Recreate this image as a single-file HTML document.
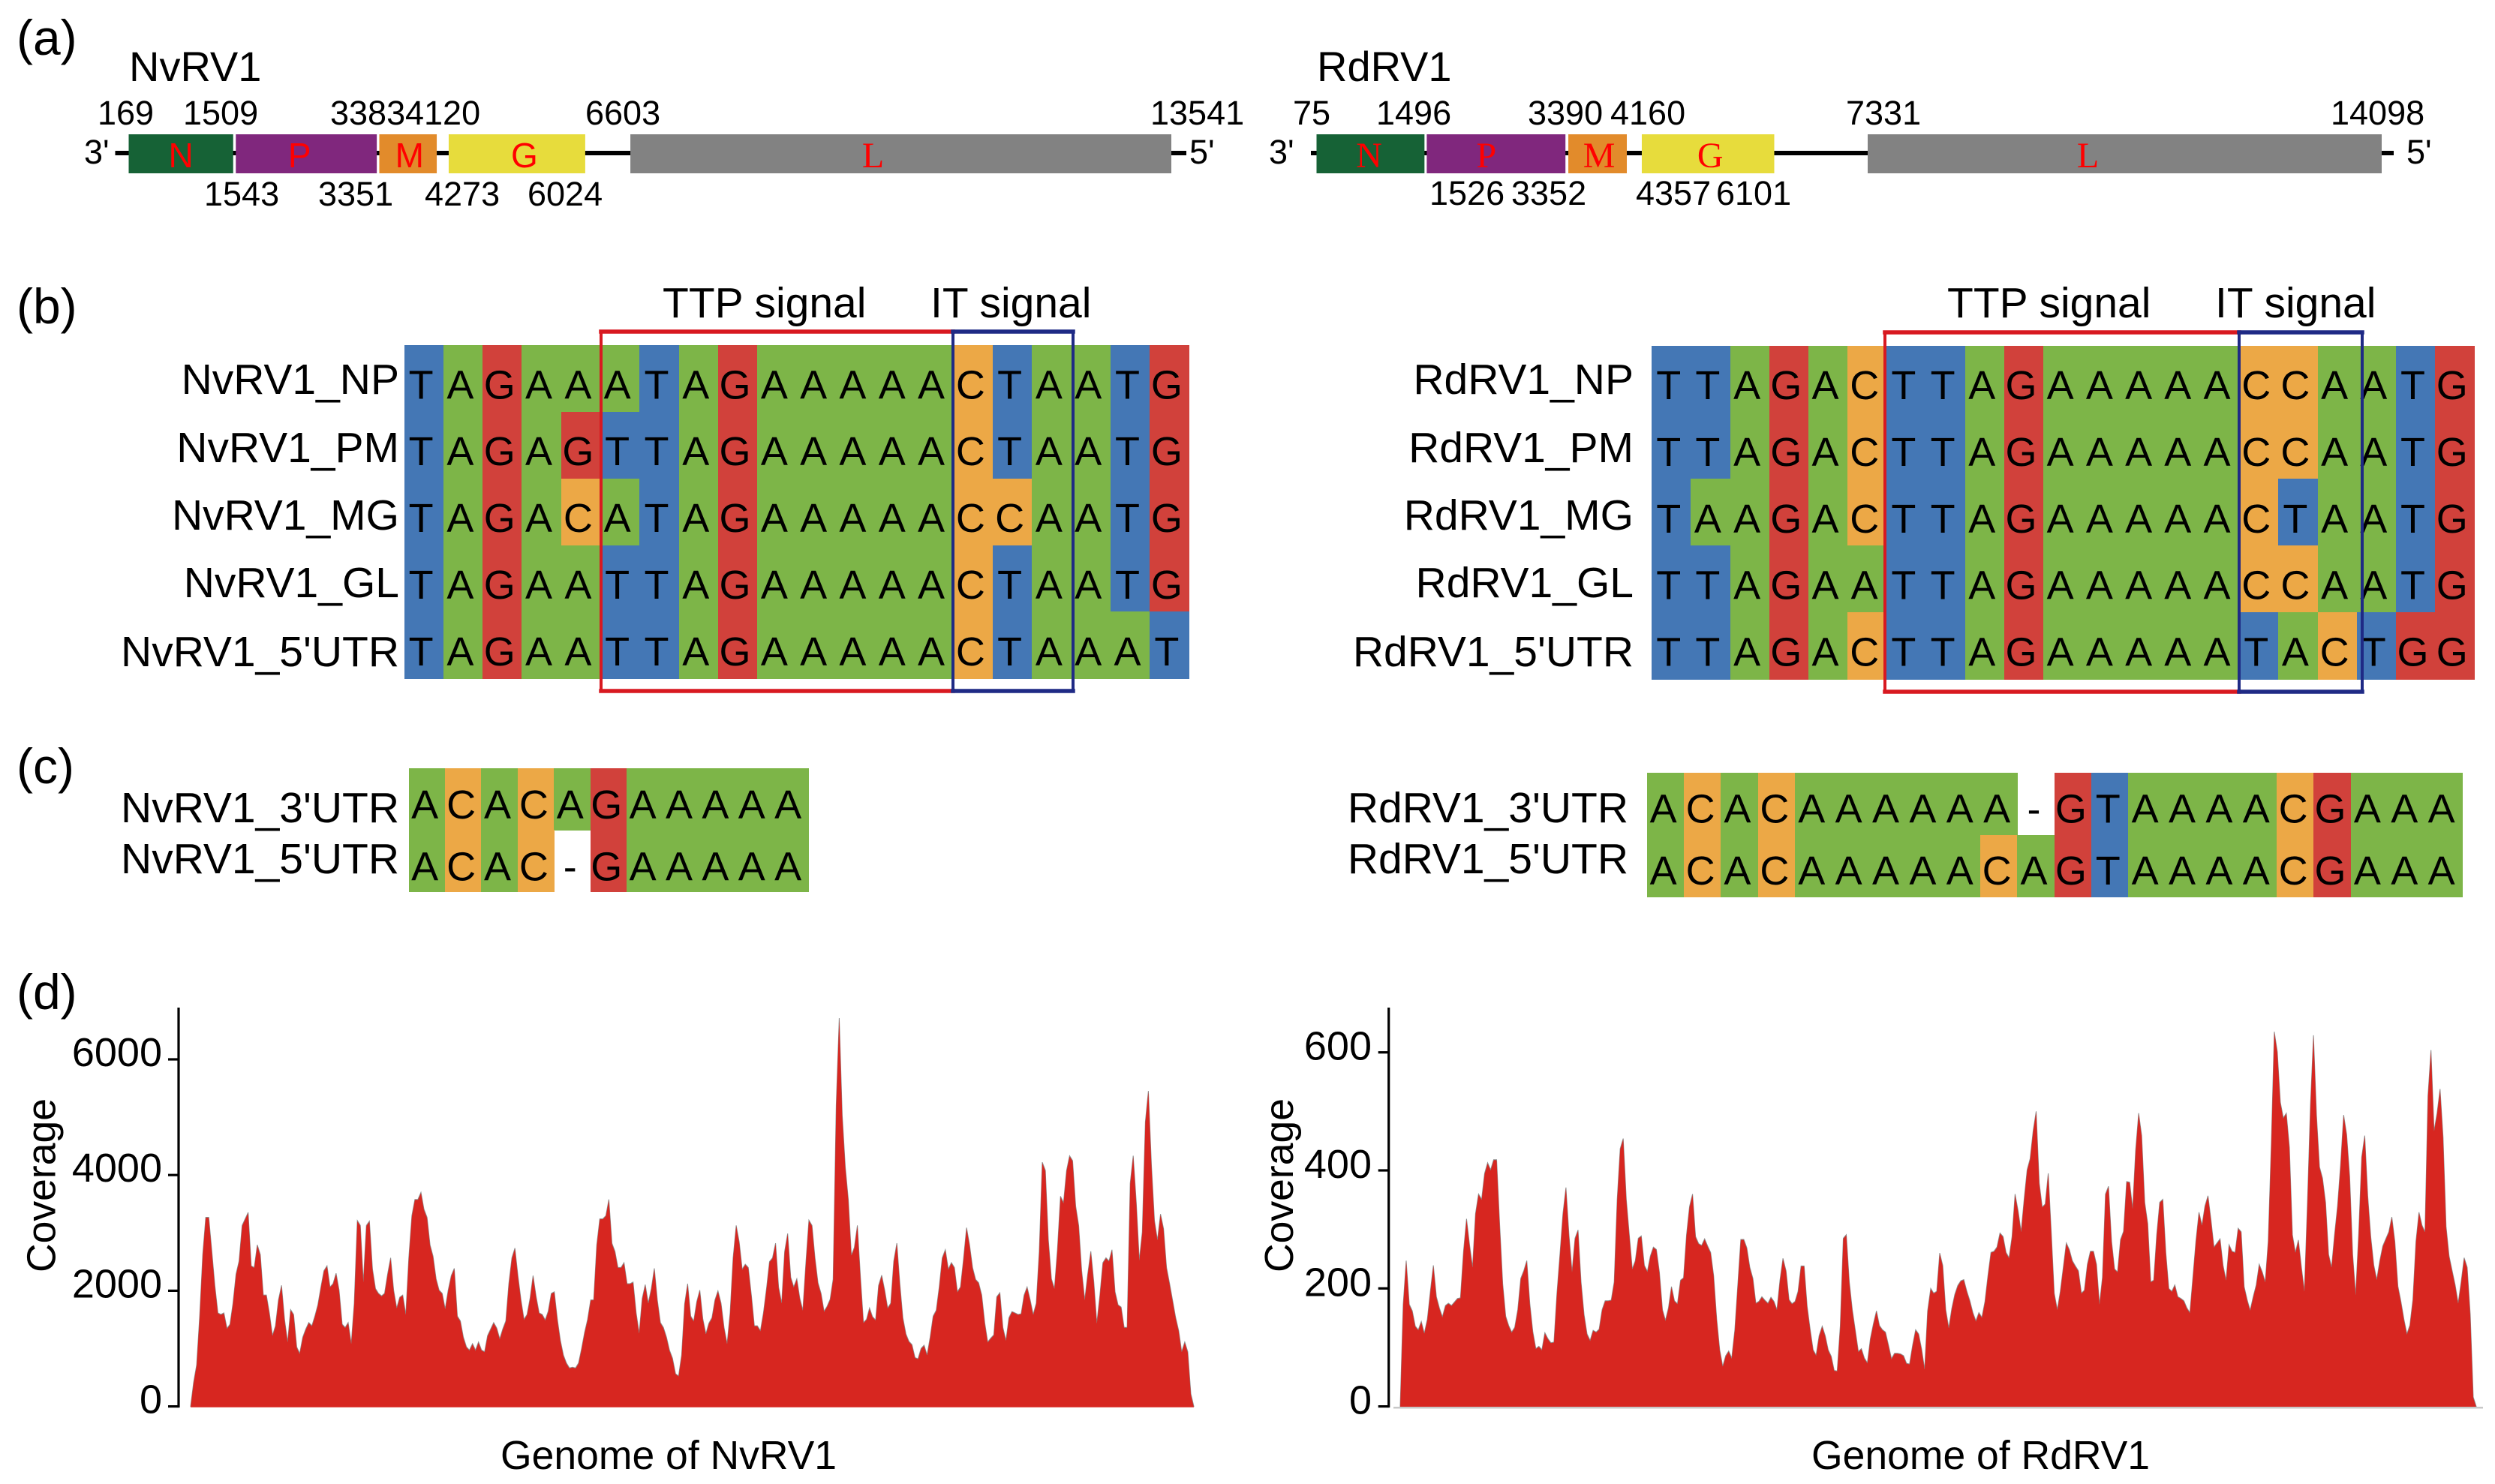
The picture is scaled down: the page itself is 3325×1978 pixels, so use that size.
<!DOCTYPE html>
<html lang="en">
<head>
<meta charset="utf-8">
<title>NvRV1 and RdRV1 genome organisation, conserved signals and coverage</title>
<style>
html,body{margin:0;padding:0;background:#fff;}
svg{display:block;font-family:"Liberation Sans",Arial,sans-serif;fill:#000;}
.pl{font-size:66px;}
.ti{font-size:56px;}
.nu{font-size:45px;}
.sg{font-size:57px;}
.rl{font-size:57px;text-anchor:end;}
.gs{font-size:46px;fill:#f00;text-anchor:middle;}
.gf{font-size:48px;fill:#f00;text-anchor:middle;font-family:"Liberation Serif",serif;}
.ax{font-size:53.5px;}
</style>
</head>
<body>
<svg id="fig" xmlns="http://www.w3.org/2000/svg" width="3325" height="1978" viewBox="0 0 3325 1978">
<rect x="0" y="0" width="3325" height="1978" fill="#fff"/>

<text class="pl" x="22" y="73">(a)</text>
<text class="pl" x="22" y="431">(b)</text>
<text class="pl" x="22" y="1044">(c)</text>
<text class="pl" x="22" y="1345">(d)</text>

<text class="ti" x="172" y="108">NvRV1</text>
<text class="ti" x="1755" y="108">RdRV1</text>

<g id="mapL"></g>
<g id="mapR"></g>

<g class="nu">
<text x="130" y="166">169</text>
<text x="244" y="166">1509</text>
<text x="440" y="166">3383</text>
<text x="540" y="166">4120</text>
<text x="780" y="166">6603</text>
<text x="1533" y="166">13541</text>
<text x="272" y="274">1543</text>
<text x="424" y="274">3351</text>
<text x="566" y="274">4273</text>
<text x="703" y="274">6024</text>
<text x="112" y="218">3'</text>
<text x="1585" y="218">5'</text>
</g>
<g class="nu">
<text x="1723" y="166">75</text>
<text x="1834" y="166">1496</text>
<text x="2036" y="166">3390</text>
<text x="2146" y="166">4160</text>
<text x="2460" y="166">7331</text>
<text x="3106" y="166">14098</text>
<text x="1905" y="273">1526</text>
<text x="2014" y="273">3352</text>
<text x="2180" y="273">4357</text>
<text x="2287" y="273">6101</text>
<text x="1691" y="218">3'</text>
<text x="3207" y="218">5'</text>
</g>

<g class="sg">
<text x="883" y="423">TTP signal</text>
<text x="1240" y="423">IT signal</text>
<text x="2595" y="423">TTP signal</text>
<text x="2952" y="423">IT signal</text>
</g>

<g>
<text class="rl" x="532" y="525">NvRV1_NP</text>
<text class="rl" x="532" y="616">NvRV1_PM</text>
<text class="rl" x="532" y="706">NvRV1_MG</text>
<text class="rl" x="532" y="796">NvRV1_GL</text>
<text class="rl" x="532" y="888">NvRV1_5'UTR</text>
<text class="rl" x="2177" y="525">RdRV1_NP</text>
<text class="rl" x="2177" y="616">RdRV1_PM</text>
<text class="rl" x="2177" y="706">RdRV1_MG</text>
<text class="rl" x="2177" y="796">RdRV1_GL</text>
<text class="rl" x="2177" y="888">RdRV1_5'UTR</text>
<text class="rl" x="532" y="1096">NvRV1_3'UTR</text>
<text class="rl" x="532" y="1164">NvRV1_5'UTR</text>
<text class="rl" x="2170" y="1096">RdRV1_3'UTR</text>
<text class="rl" x="2170" y="1164">RdRV1_5'UTR</text>
</g>

<g id="alignments"></g>

<g fill="none" stroke-linecap="square">
<path d="M1270 442H801V921H1270" stroke="#d81920" stroke-width="4"/>
<path d="M801 442H1270M801 921H1270" stroke="#d81920" stroke-width="5.5"/>
<path d="M1270 442V921M1430 442V921" stroke="#1f2a85" stroke-width="4"/>
<path d="M1270 442H1430M1270 921H1430" stroke="#1f2a85" stroke-width="5.5"/>
<path d="M2984 443H2512V922H2984" stroke="#d81920" stroke-width="4"/>
<path d="M2512 443H2984M2512 922H2984" stroke="#d81920" stroke-width="5.5"/>
<path d="M2984 443V922M3148 443V922" stroke="#1f2a85" stroke-width="4"/>
<path d="M2984 443H3148M2984 922H3148" stroke="#1f2a85" stroke-width="5.5"/>
</g>

<g id="chartL"></g>
<g id="chartR"></g>

<text class="ax" transform="translate(73.5 1580) rotate(-90)" text-anchor="middle">Coverage</text>
<text class="ax" transform="translate(1723 1580) rotate(-90)" text-anchor="middle">Coverage</text>
<text class="ax" x="667" y="1958">Genome of NvRV1</text>
<text class="ax" x="2414" y="1958">Genome of RdRV1</text>
</svg>

<script>
// ---------- Panel (a) data: gene coordinates in nucleotides ----------
const geneNames = ['N', 'P', 'M', 'G', 'L'];
const nvGeneStart = [169, 1543, 3383, 4273, 6603];
const nvGeneEnd = [1509, 3351, 4120, 6024, 13541];
const rdGeneStart = [75, 1526, 3390, 4357, 7331];
const rdGeneEnd = [1496, 3352, 4160, 6101, 14098];

// ---------- Panels (b) and (c) data: aligned sequences ----------
const nvSignalSeqs = [
  'TAGAAATAGAAAAACTAATG',
  'TAGAGTTAGAAAAACTAATG',
  'TAGACATAGAAAAACCAATG',
  'TAGAATTAGAAAAACTAATG',
  'TAGAATTAGAAAAACTAAAT'
];
const rdSignalSeqs = [
  'TTAGACTTAGAAAAACCAATG',
  'TTAGACTTAGAAAAACCAATG',
  'TAAGACTTAGAAAAACTAATG',
  'TTAGAATTAGAAAAACCAATG',
  'TTAGACTTAGAAAAATACTGG'
];
const nvUtrSeqs = ['ACACAGAAAAA', 'ACAC-GAAAAA'];
const rdUtrSeqs = ['ACACAAAAAA-GTAAAACGAAA', 'ACACAAAAACAGTAAAACGAAA'];

// ---------- Panel (d) data: read coverage per equal genome bin ----------
const nvTicks = [0, 2000, 4000, 6000];
const rdTicks = [0, 200, 400, 600];
const nvCoverage = [
0,414,722,1562,2626,3270,3270,2682,2094,1618,1590,1618,1350,1422,1786,2290,2514,3130,3242,3354,2430,2402,2794,2626,1926,1926,1618,1226,1394,1842,2094,1506,1114,1674,1590,1030,918,1198,1338,1450,
1394,1562,1758,2066,2346,2430,2066,2122,2302,2010,1422,1366,1450,1086,1786,3214,3130,2150,3130,3203,2374,2038,1954,1910,1954,2290,2570,2010,1702,1887,1926,1590,2570,3298,3578,3578,3702,3410,3270,2794,
2598,2206,2010,1954,1686,2010,2262,2386,1562,1478,1198,1030,974,1086,974,1114,974,946,1226,1338,1450,1355,1170,1338,1478,2122,2570,2738,2262,1842,1506,1590,1870,2262,1898,1618,1590,1495,1646,1954,
1982,1506,1142,890,750,666,678,666,750,1002,1282,1506,1842,1842,2794,3242,3242,3298,3578,2822,2682,2402,2402,2486,2122,2122,2150,1618,1266,1870,2106,1786,2038,2386,1842,1450,1366,1198,974,834,566,
526,890,1775,2122,1562,1478,1814,2010,1518,1254,1439,1534,1842,1999,1786,1366,1086,1618,2570,3130,2845,2374,2458,2402,1926,1394,1394,1310,1618,2038,2503,2570,2822,2066,1786,2682,2990,2234,2066,2206,
1870,1663,2486,3220,3130,2570,2139,1954,1646,1730,1854,2200,5202,6714,5034,4138,3578,2615,2750,3130,2234,1450,1506,1702,1551,1495,2094,2268,2010,1702,1786,2514,2822,2122,1534,1254,1126,1070,846,823,
1002,1058,890,1198,1562,1663,2066,2570,2710,2374,2486,2402,1982,2066,2542,3091,2794,2402,2195,2139,1926,1450,1114,1182,1238,1898,1966,1366,1142,1534,1641,1618,1590,1602,1926,2066,1842,1590,1786,2682,
4222,4082,2878,2206,2038,2710,3634,3522,4082,4334,4250,3466,3130,2346,1842,2290,2682,2150,1439,1926,2486,2570,2514,2710,1982,1758,1719,1366,1366,3858,4334,3522,2526,3018,4922,5454,4166,3214,2878,3326,
3074,2402,2122,1831,1534,1310,946,1114,946,218,0
];
const rdCoverage = [
0,173,247,173,162,136,130,144,124,148,195,239,186,167,152,171,175,171,177,183,184,263,318,274,236,327,360,351,395,413,401,418,418,307,208,153,137,126,134,164,
217,230,247,175,127,98,102,96,125,115,108,109,192,258,327,371,291,228,285,299,211,156,123,112,129,126,131,164,179,179,180,211,351,437,454,351,291,233,247,285,
289,239,229,255,270,266,228,164,146,167,203,179,174,214,218,291,339,360,288,276,273,284,272,261,222,148,96,68,86,94,82,129,206,283,283,269,236,217,175,178,
186,180,175,185,178,164,214,251,230,181,174,178,195,238,238,170,131,96,87,120,136,120,96,85,61,60,137,285,291,211,164,129,93,98,82,74,115,140,
162,137,130,126,104,81,90,90,89,86,73,72,104,130,123,97,63,162,200,192,195,260,239,164,133,166,190,205,213,215,195,179,159,145,159,151,178,222,261,263,
270,294,288,261,252,288,360,332,296,351,401,420,467,500,379,338,343,395,296,192,164,195,236,277,266,247,238,230,192,197,241,263,263,241,173,219,360,373,280,233,
228,283,297,381,380,335,434,497,459,346,310,211,214,291,346,351,261,200,195,206,186,183,179,167,159,219,280,329,307,340,357,316,270,277,284,239,214,274,263,261,
302,296,203,181,163,186,206,241,228,211,280,445,635,601,516,489,497,439,291,261,282,236,195,346,511,629,494,406,387,346,258,236,291,340,409,494,461,390,258,189,
291,423,459,357,288,240,215,247,272,284,296,321,280,204,178,148,123,138,181,280,329,307,296,527,604,467,497,538,456,305,255,230,206,175,211,252,236,156,16,0
];

// ---------- Drawing helpers ----------
const NS = 'http://www.w3.org/2000/svg';
const baseColors = { A: '#7db548', C: '#eca846', G: '#d1413b', T: '#4477b5' };
const geneColors = { N: '#166236', P: '#80277d', M: '#e28b2b', G: '#e7dc3c', L: '#828282' };

function make(tag, parent, attrs, text) {
  const node = document.createElementNS(NS, tag);
  for (const k in attrs) node.setAttribute(k, attrs[k]);
  if (text !== undefined) node.textContent = text;
  parent.appendChild(node);
  return node;
}

// Panel (a)
function drawMap(parentId, starts, ends, ntMin, ntMax, pxMin, pxMax, lineFrom, lineTo, gapX, cls, yTop, h) {
  const parent = document.getElementById(parentId);
  const xs = nt => pxMin + (nt - ntMin) / (ntMax - ntMin) * (pxMax - pxMin);
  const line = make('rect', parent, { x: lineFrom, y: 201, width: lineTo - lineFrom, height: 6, fill: '#000' });
  
  
  geneNames.forEach((name, i) => {
    const x0 = xs(starts[i]);
    const x1 = xs(ends[i]);
    const box = make('rect', parent, { x: x0, y: yTop, width: x1 - x0, height: h, fill: geneColors[name] });
    
    
    const tx = (x0 + x1) / 2 + gapX[i];
    const label = make('text', parent, { x: tx, y: yTop + 44, class: (name === 'L' || cls === 'gf') ? 'gf' : 'gs' }, name);
    
    
  });
}
drawMap('mapL', nvGeneStart, nvGeneEnd, 169, 13541, 171.5, 1561, 153.5, 1581, [0, -9, 2, 10, -37], 'gs', 179, 52);
drawMap('mapR', rdGeneStart, rdGeneEnd, 75, 14098, 1754.5, 3174, 1747, 3190, [-2, -13, 2, 3, -49], 'gf', 179, 52);

// Panels (b) and (c)
function drawAlignment(seqs, x0, colW, y0, rowH, baseOff, fs, shift) {
  const parent = document.getElementById('alignments');
  const xScale = c => x0 + c * colW;
  const yScale = r => y0 + r * rowH;
  seqs.forEach((seq, r) => {
    [...seq].forEach((ch, c) => {
      if (ch !== '-') {
        const cell = make('rect', parent, {
          x: Math.floor(xScale(c)), y: Math.floor(yScale(r)),
          width: Math.ceil(xScale(c + 1)) - Math.floor(xScale(c)),
          height: Math.ceil(yScale(r + 1)) - Math.floor(yScale(r)),
          fill: baseColors[ch], 'shape-rendering': 'crispEdges'
        });
        
        
      }
    });
  });
  seqs.forEach((seq, r) => {
    [...seq].forEach((ch, c) => {
      const t = make('text', parent, {
        x: xScale(c) + colW / 2 + shift, y: yScale(r) + baseOff,
        'text-anchor': 'middle', 'font-size': fs
      }, ch);
      
      
    });
  });
}
drawAlignment(nvSignalSeqs, 539, 52.3, 460.3, 88.9, 71, 54, -4);
drawAlignment(rdSignalSeqs, 2201.6, 52.2, 461, 88.9, 71, 54, -4);
drawAlignment(nvUtrSeqs, 545, 48.4, 1024, 82.5, 67, 54, -3);
drawAlignment(rdUtrSeqs, 2195, 49.38, 1030.7, 82.3, 66, 54, -3);

// Panel (d)
function drawCoverage(parentId, values, ticks, zeroY, pxPerUnit, axisX, areaX0, areaX1, labelRight, labelDy) {
  const parent = document.getElementById(parentId);
  const xScale = i => areaX0 + i / (values.length - 1) * (areaX1 - areaX0);
  const yScale = v => zeroY - v * pxPerUnit;
  let d = 'M' + xScale(0).toFixed(1) + ' ' + yScale(0).toFixed(1);
  values.forEach((v, i) => {
    d += 'L' + xScale(i).toFixed(1) + ' ' + yScale(v).toFixed(1);
  });
  d += 'L' + xScale(values.length - 1).toFixed(1) + ' ' + yScale(0).toFixed(1) + 'Z';
  const area = make('path', parent, { d: d, fill: '#d72620', stroke: '#8c8c8c', 'stroke-width': 1, 'stroke-linejoin': 'miter' });
  
  
  const fillOnly = make('path', parent, { d: d, fill: '#d72620', transform: 'translate(0 1.2)' });
  
  
  const axis = make('line', parent, { x1: axisX, x2: axisX, y1: 1343, y2: zeroY + 1.5, stroke: '#000', 'stroke-width': 3.2 });
  
  
  ticks.forEach(v => {
    const tick = make('line', parent, { x1: axisX - 14, x2: axisX, y1: yScale(v), y2: yScale(v), stroke: '#000', 'stroke-width': 3.2 });
    
    
    const lab = make('text', parent, { x: labelRight, y: yScale(v) + labelDy, 'text-anchor': 'end', 'font-size': 54 }, String(v));
    
    
  });
}
drawCoverage('chartL', nvCoverage, nvTicks, 1874.6, 154.2 / 2000, 238, 254, 1591, 216, 9);
drawCoverage('chartR', rdCoverage, rdTicks, 1874.6, 157.3 / 200, 1850.7, 1866, 3300, 1828, 10);
const rdBase = make('rect', document.getElementById('chartR'), { x: 1857, y: 1875, width: 1452, height: 2.5, fill: '#c8c8c8' });


</script>
</body>
</html>
